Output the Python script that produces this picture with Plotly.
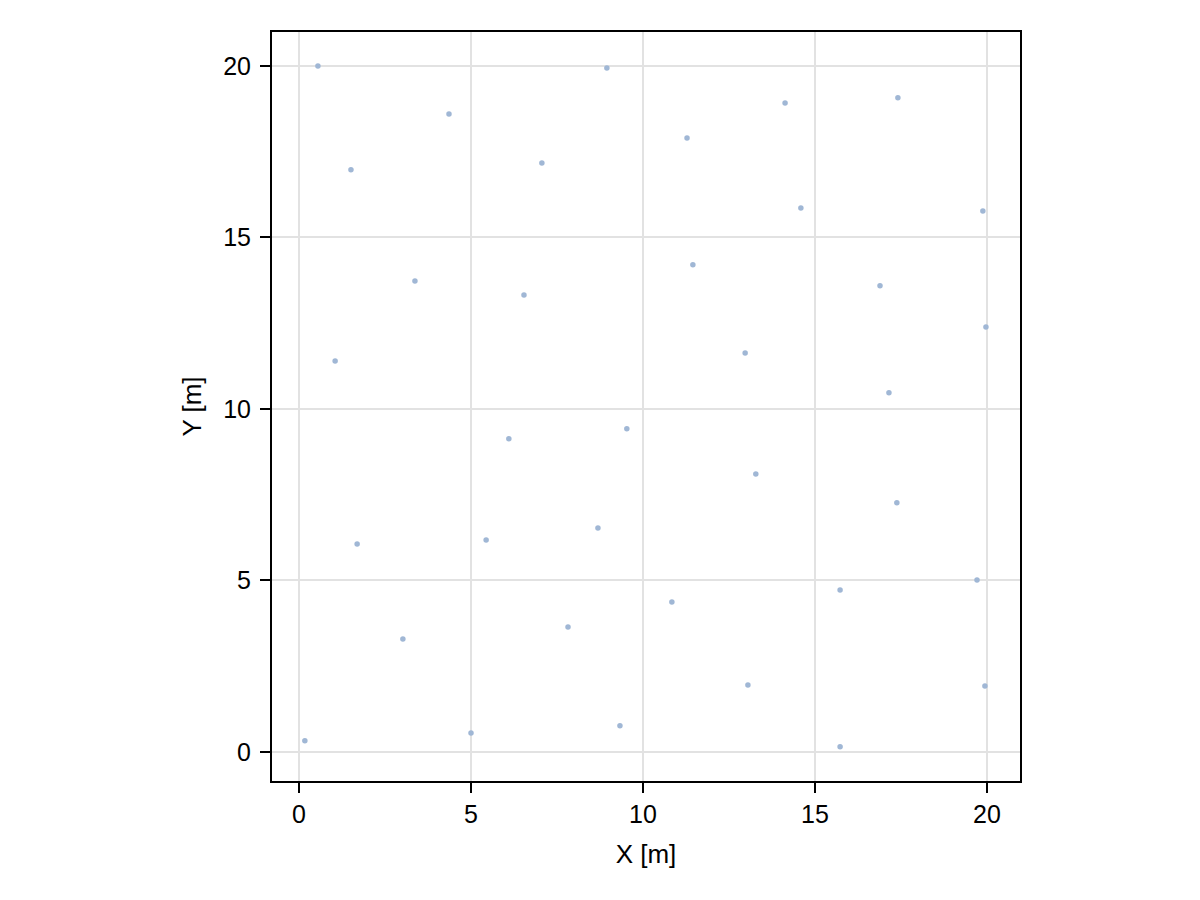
import plotly.graph_objects as go

x_vals = [0.55, 8.95, 4.36, 14.13, 17.41, 11.28, 7.06, 1.51, 14.59, 19.88,
          3.37, 11.45, 6.54, 16.89, 19.97, 1.05, 12.97, 17.15, 6.10, 9.53,
          13.28, 17.38, 1.69, 5.44, 8.69, 19.71, 15.73, 10.84, 7.82, 3.02,
          13.05, 19.94, 9.33, 5.00, 0.17, 15.73]
y_vals = [20.00, 19.94, 18.60, 18.92, 19.07, 17.90, 17.17, 16.97, 15.86, 15.77,
          13.73, 14.20, 13.32, 13.59, 12.39, 11.40, 11.63, 10.47, 9.13, 9.42,
          8.10, 7.26, 6.06, 6.18, 6.53, 5.01, 4.72, 4.37, 3.64, 3.29,
          1.95, 1.92, 0.76, 0.55, 0.32, 0.15]
tick_vals = [0, 5, 10, 15, 20]

FONT = "Liberation Sans, Arial, sans-serif"

fig = go.Figure()
fig.add_trace(go.Scatter(
    x=x_vals, y=y_vals, mode="markers",
    marker=dict(size=5.5, color="#a0b7d5", line=dict(width=0)),
    showlegend=False,
))

axis_common = dict(
    tickvals=tick_vals,
    showgrid=True, gridcolor="#e2e2e2", gridwidth=2,
    zeroline=False,
    showline=True, linecolor="black", linewidth=2, mirror=True,
    ticks="outside", ticklen=10, tickwidth=1.5, tickcolor="black",
    tickfont=dict(family=FONT, size=25, color="black"),
)

fig.update_layout(
    width=1200, height=900,
    margin=dict(l=264, r=188, t=24, b=127),
    plot_bgcolor="white", paper_bgcolor="white",
    font=dict(family=FONT, size=25, color="black"),
    xaxis=dict(range=[-0.785, 20.96],
               title=dict(text="X [m]", font=dict(size=26), standoff=18),
               **axis_common),
    yaxis=dict(range=[-0.85, 20.99],
               title=dict(text="Y [m]", font=dict(size=26), standoff=14),
               ticklabelstandoff=4,
               **axis_common),
)

fig.write_html("out.html")
